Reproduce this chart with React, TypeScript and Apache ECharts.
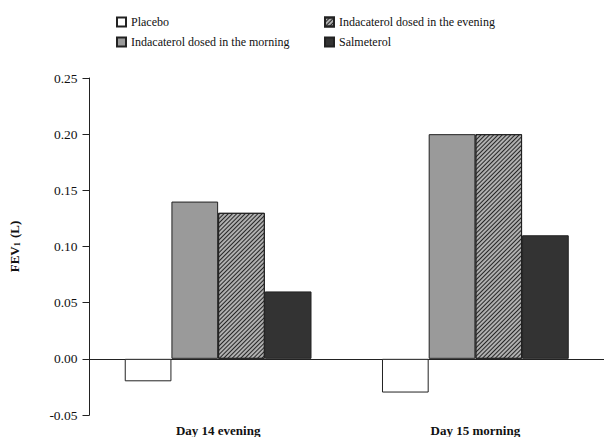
import React, { useEffect, useRef } from "react";
import * as echarts from "echarts";

const categories = ["Day 14 evening", "Day 15 morning"];
const placebo = [-0.02, -0.03];
const indMorning = [0.14, 0.2];
const indEvening = [0.13, 0.2];
const salmeterol = [0.06, 0.11];
const yTicks = [-0.05, 0, 0.05, 0.1, 0.15, 0.2, 0.25];

const FONT = "'Liberation Serif', 'Times New Roman', serif";

export default function App() {
  const ref = useRef<HTMLDivElement>(null);
  useEffect(() => {
    document.body.style.margin = "0";
    const chart = echarts.init(ref.current!, null, { renderer: "svg" });
    const border = { borderColor: "#222", borderWidth: 1 };
    const legendBase = {
      top: 11,
      orient: "vertical",
      itemGap: 8,
      itemWidth: 9,
      itemHeight: 9,
      icon: "rect",
      textStyle: { fontFamily: FONT, fontSize: 12, color: "#111" },
    };
    chart.setOption({
      animation: false,
      textStyle: { fontFamily: FONT, color: "#111" },
      legend: [
        { ...legendBase, left: 111, data: ["Placebo", "Indacaterol dosed in the morning"] },
        { ...legendBase, left: 319, data: ["Indacaterol dosed in the evening", "Salmeterol"] },
      ],
      grid: { left: 89, top: 78, bottom: 22, width: 518 },
      xAxis: [
        {
          type: "category",
          data: categories,
          position: "bottom",
          axisLine: { show: false, onZero: false },
          axisTick: { show: false },
          axisLabel: {
            margin: 9,
            fontFamily: FONT,
            fontWeight: "bold",
            fontSize: 13,
            color: "#111",
          },
        },
        {
          type: "category",
          data: categories,
          axisLine: { show: true, onZero: true, lineStyle: { color: "#222", width: 1 } },
          axisTick: { show: false },
          axisLabel: { show: false },
        },
      ],
      yAxis: {
        type: "value",
        min: yTicks[0],
        max: yTicks[yTicks.length - 1],
        interval: 0.05,
        splitLine: { show: false },
        axisLine: { show: true, lineStyle: { color: "#222", width: 1 } },
        axisTick: { show: true, length: 7, lineStyle: { color: "#222" } },
        axisLabel: {
          margin: 12,
          fontFamily: FONT,
          fontSize: 13.5,
          color: "#111",
          formatter: (v: number) => v.toFixed(2),
        },
        name: "{b|FEV}{sub|1}{b| (L)}",
        nameLocation: "middle",
        nameRotate: 90,
        nameGap: 68,
        nameTextStyle: {
          fontFamily: FONT,
          fontWeight: "bold",
          fontSize: 13,
          color: "#111",
          rich: {
            b: { fontSize: 13, fontWeight: "bold", fontFamily: FONT, color: "#111" },
            sub: { fontSize: 8, fontWeight: "bold", fontFamily: FONT, color: "#111", padding: [6, 1, 0, 0] },
          },
        },
      },
      series: [
        {
          name: "Placebo",
          type: "bar",
          data: placebo,
          barGap: "0%",
          barCategoryGap: "27.4%",
          itemStyle: { color: "#ffffff", ...border },
        },
        {
          name: "Indacaterol dosed in the morning",
          type: "bar",
          data: indMorning,
          barGap: "0%",
          barCategoryGap: "27.4%",
          itemStyle: { color: "#9a9a9a", ...border },
        },
        {
          name: "Indacaterol dosed in the evening",
          type: "bar",
          data: indEvening,
          barGap: "0%",
          barCategoryGap: "27.4%",
          itemStyle: {
            color: "#b0b0b0",
            ...border,
            decal: {
              symbol: "rect",
              symbolSize: 1,
              dashArrayX: [1, 0],
              dashArrayY: [1, 2],
              rotation: -Math.PI / 4,
              color: "#262626",
            },
          },
        },
        {
          name: "Salmeterol",
          type: "bar",
          data: salmeterol,
          barGap: "0%",
          barCategoryGap: "27.4%",
          itemStyle: { color: "#333333", ...border },
        },
      ],
    });
    return () => chart.dispose();
  }, []);
  return <div ref={ref} style={{ width: 604, height: 437 }} />;
}
